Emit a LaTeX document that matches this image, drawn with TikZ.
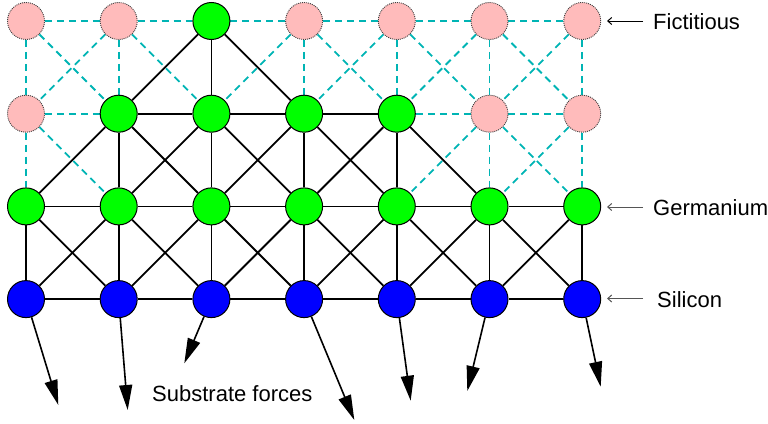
\documentclass[tikz,border=0pt]{standalone}
\usepackage{fontspec}
\setmainfont{Liberation Sans}
\usetikzlibrary{arrows.meta,backgrounds}
\definecolor{fakefill}{RGB}{255,187,187}
\definecolor{gegreen}{RGB}{0,255,0}
\definecolor{siblue}{RGB}{0,0,255}
\definecolor{bondteal}{RGB}{0,180,180}
\definecolor{labgrey}{RGB}{85,85,85}
\newcommand\gedge[4]{%
  \pgfmathtruncatemacro\fk{or(isfake(#1,#2),isfake(#3,#4))}%
  \ifnum\fk=1 \draw[fakebond] (n#1#2) -- (n#3#4);%
  \else \draw[realbond] (n#1#2) -- (n#3#4);\fi}
\begin{document}
\begin{tikzpicture}[x=1pt,y=-1pt,
  declare function={isfake(\a,\b)=or(and(\b==0,\a!=2),and(\b==1,or(\a==0,\a>=5)));},
  atom/.style={circle,minimum size=37pt,inner sep=0pt},
  fakeatom/.style={atom,fill=fakefill,draw=black!75,line width=0.9pt,dash pattern=on 1pt off 1pt},
  geatom/.style={atom,fill=gegreen,draw=black,line width=1pt},
  siatom/.style={atom,fill=siblue,draw=black,line width=1pt},
  realbond/.style={draw=black,line width=1.8pt},
  fakebond/.style={draw=bondteal,line width=1.8pt,dash pattern=on 7pt off 5pt},
  force/.style={draw=black,line width=1.6pt,-{Triangle[length=25pt,width=13pt]}},
  lab/.style={font=\fontsize{22}{26}\selectfont,inner sep=0pt,anchor=base west},
  labarrow/.style={line width=1pt,-{Straight Barb[length=4pt,width=7pt]}}]
\useasboundingbox (0,0) rectangle (768,423);
% atoms
\foreach \c in {0,...,6}{\foreach \r in {0,...,3}{
  \pgfmathtruncatemacro\fk{isfake(\c,\r)}
  \ifnum\fk=1 \node[fakeatom] (n\c\r) at (26+92.7*\c,21+92.7*\r) {};
  \else\ifnum\r=3 \node[siatom] (n\c\r) at (26+92.7*\c,21+92.7*\r) {};
  \else \node[geatom] (n\c\r) at (26+92.7*\c,21+92.7*\r) {};\fi\fi
}}
% bonds
\begin{scope}[on background layer]
\foreach \c in {0,...,6}{\foreach \r in {0,...,3}{
  \pgfmathtruncatemacro\cn{\c+1}
  \pgfmathtruncatemacro\rn{\r+1}
  \ifnum\c<6 \gedge{\c}{\r}{\cn}{\r}\fi
  \ifnum\r<3 \gedge{\c}{\r}{\c}{\rn}\fi
  \ifnum\c<6 \ifnum\r<3 \gedge{\c}{\r}{\cn}{\rn}\gedge{\cn}{\r}{\c}{\rn}\fi\fi
}}
\end{scope}
% substrate forces
\coordinate (t0) at (58.3,405);
\coordinate (t1) at (127.7,410);
\coordinate (t2) at (184.3,363.3);
\coordinate (t3) at (354.3,420);
\coordinate (t4) at (410.7,400.7);
\coordinate (t5) at (467.3,391);
\coordinate (t6) at (600.7,386.7);
\foreach \c in {0,...,6}{\draw[force] (n\c3) -- (t\c);}
\node[lab] (subs) at (152,401.5) {Substrate forces};
% labels
\node[lab] (fict) at (653,29.5) {Fictitious};
\node[lab] (germ) at (653,215) {Germanium};
\node[lab] (sili) at (657,307) {Silicon};
\coordinate (fa) at (607,21);
\coordinate (ga) at (607,207);
\coordinate (sa) at (607,298.5);
\draw[labarrow,black] (643,21) -- (fa);
\draw[labarrow,labgrey] (643,207) -- (ga);
\draw[labarrow,labgrey] (643,298.5) -- (sa);
\end{tikzpicture}
\end{document}
